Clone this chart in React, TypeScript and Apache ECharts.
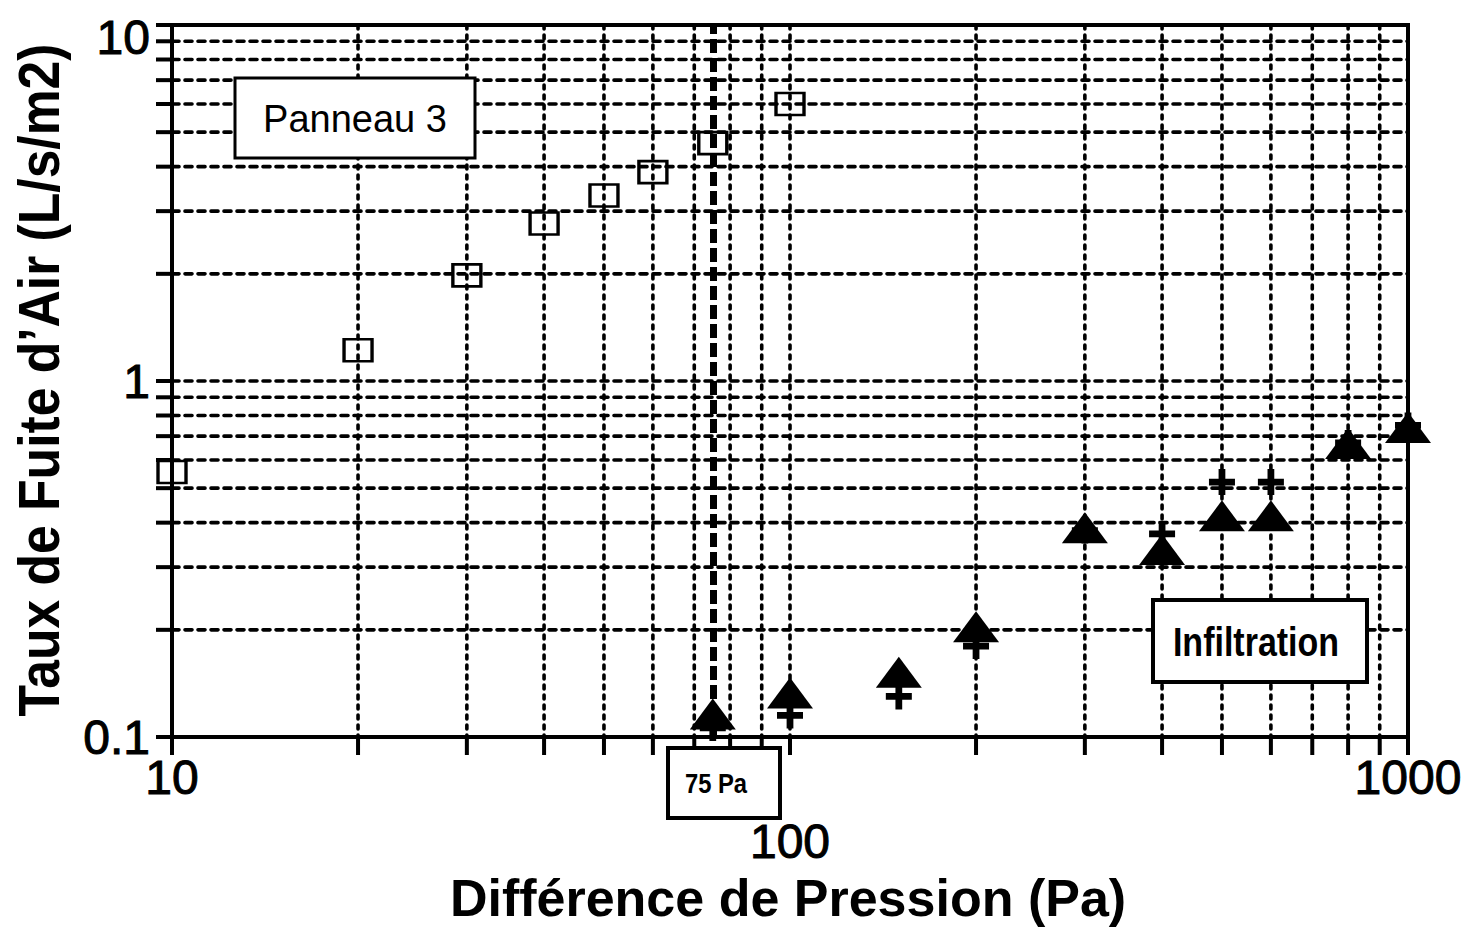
import React, { useEffect, useRef } from "react";
import * as echarts from "echarts";

// ---- axis ranges & tick labels ----
const xRange = [10, 1000];
const yRange = [0.1, 10];
const xTickLabels = ["10", "100", "1000"];
const yTickLabels = ["0.1", "1", "10"];

// ---- dashed grid positions (every minor + interior major) ----
const gridX = [20, 30, 40, 50, 60, 70, 80, 90, 100, 200, 300, 400, 500, 600, 700, 800, 900];
const gridY = [0.2, 0.3, 0.4, 0.5, 0.6, 0.7, 0.8, 0.9, 1, 2, 3, 4, 5, 6, 7, 8, 9];

// ---- reference pressure ----
const refPressure = 75;

// ---- "Panneau 3" (open squares) ----
const panneauX = [10, 20, 30, 40, 50, 60, 75, 100];
const panneauY = [0.555, 1.22, 1.98, 2.77, 3.32, 3.86, 4.66, 6.0];

// ---- "Infiltration" (filled triangles) ----
const infilX = [75, 100, 150, 200, 300, 400, 500, 600, 800, 1000];
const infilY = [0.116, 0.133, 0.152, 0.204, 0.387, 0.336, 0.418, 0.418, 0.668, 0.74];

// ---- second infiltration run (plus signs) ----
const plusX = [75, 100, 150, 200, 300, 400, 500, 600, 800, 1000];
const plusY = [0.106, 0.115, 0.13, 0.18, 0.38, 0.372, 0.52, 0.52, 0.67, 0.75];

const FONT = "'Liberation Sans', Arial, Helvetica, sans-serif";
const PLUS = "path://M37,0H63V37H100V63H63V100H37V63H0V37H37Z";

export default function App() {
  const ref = useRef<HTMLDivElement>(null);

  useEffect(() => {
    if (!ref.current) return;
    const chart = echarts.init(ref.current, null, { renderer: "svg" });

    const boxText = (text: string, x: number, y: number, font: string, scaleX = 1) => ({
      type: "text",
      z: 101,
      x,
      y,
      scaleX,
      style: { text, font, fill: "#000", align: "center", verticalAlign: "middle" },
    });
    const box = (x: number, y: number, w: number, h: number, lw: number) => ({
      type: "rect",
      z: 100,
      shape: { x, y, width: w, height: h },
      style: { fill: "#fff", stroke: "#000", lineWidth: lw },
    });

    const option: any = {
      animation: false,
      backgroundColor: "#ffffff",
      grid: {
        left: 172,
        right: 63,
        top: 25,
        bottom: 196,
        show: true,
        borderColor: "#000",
        borderWidth: 4,
        backgroundColor: "transparent",
      },
      xAxis: {
        type: "log",
        logBase: 10,
        min: xRange[0],
        max: xRange[1],
        axisLine: { show: true, lineStyle: { color: "#000", width: 4 } },
        axisTick: { show: true, length: 18, lineStyle: { color: "#000", width: 4 } },
        splitLine: { show: false },
        minorTick: { show: false },
        axisLabel: {
          margin: 16,
          color: "#000",
          fontFamily: FONT,
          fontSize: 48,
          textBorderColor: "#000",
          textBorderWidth: 1,
          formatter: (v: number) => {
            const s = xTickLabels.find((t) => Math.abs(Number(t) - v) < 1e-6) || String(v);
            return s === "100" ? "{low|" + s + "}" : s;
          },
          rich: {
            low: {
              padding: [64, 0, 0, 0],
              fontSize: 48,
              fontFamily: FONT,
              color: "#000",
              textBorderColor: "#000",
              textBorderWidth: 1,
            },
          },
        },
      },
      yAxis: {
        type: "log",
        logBase: 10,
        min: yRange[0],
        max: yRange[1],
        axisLine: { show: true, lineStyle: { color: "#000", width: 4 } },
        axisTick: { show: true, length: 16, lineStyle: { color: "#000", width: 4 } },
        splitLine: { show: false },
        minorTick: { show: false },
        axisLabel: {
          margin: 22,
          color: "#000",
          fontFamily: FONT,
          fontSize: 48,
          textBorderColor: "#000",
          textBorderWidth: 1,
          formatter: (v: number) => {
            const s = yTickLabels.find((t) => Math.abs(Number(t) - v) < 1e-6) || String(v);
            return s === "10" ? "{top|" + s + "}" : s;
          },
          rich: {
            top: {
              padding: [24, 0, 0, 0],
              fontSize: 48,
              fontFamily: FONT,
              color: "#000",
              textBorderColor: "#000",
              textBorderWidth: 1,
            },
          },
        },
      },
      series: [
        {
          type: "custom",
          name: "gridX",
          silent: true,
          z: 1,
          encode: { x: 0, y: 1 },
          data: gridX.map((v) => [v, yRange[0]]),
          renderItem: (_p: any, api: any) => {
            const v = api.value(0);
            const a = api.coord([v, yRange[1]]);
            const b = api.coord([v, yRange[0]]);
            return {
              type: "group",
              children: [
                {
                  type: "line",
                  shape: { x1: a[0], y1: a[1], x2: b[0], y2: b[1] },
                  style: { stroke: "#000", lineWidth: 3.6, lineDash: [4, 6], lineCap: "round" },
                },
                {
                  type: "line",
                  shape: { x1: b[0], y1: b[1], x2: b[0], y2: b[1] + 18 },
                  style: { stroke: "#000", lineWidth: 4 },
                },
              ],
            };
          },
        },
        {
          type: "custom",
          name: "gridY",
          silent: true,
          z: 1,
          encode: { x: 0, y: 1 },
          data: gridY.map((v) => [xRange[0], v]),
          renderItem: (_p: any, api: any) => {
            const v = api.value(1);
            const a = api.coord([xRange[0], v]);
            const b = api.coord([xRange[1], v]);
            return {
              type: "group",
              children: [
                {
                  type: "line",
                  shape: { x1: a[0], y1: a[1], x2: b[0], y2: b[1] },
                  style: { stroke: "#000", lineWidth: 3.6, lineDash: [7, 6], lineCap: "round" },
                },
                {
                  type: "line",
                  shape: { x1: a[0] - 16, y1: a[1], x2: a[0], y2: a[1] },
                  style: { stroke: "#000", lineWidth: 4 },
                },
              ],
            };
          },
        },
        {
          type: "scatter",
          name: "Panneau 3",
          z: 5,
          symbol: "rect",
          symbolSize: [28, 22],
          itemStyle: { color: "rgba(255,255,255,0)", borderColor: "#000", borderWidth: 3, opacity: 1 },
          data: panneauX.map((x, i) => [x, panneauY[i]]),
          markLine: {
            silent: true,
            symbol: ["none", "none"],
            label: { show: false },
            lineStyle: { color: "#000", width: 7, type: [14, 5], opacity: 1 },
            data: [{ xAxis: refPressure }],
          },
        },
        {
          type: "scatter",
          name: "Infiltration +",
          z: 5,
          symbol: PLUS,
          symbolSize: 26,
          itemStyle: { color: "#000", opacity: 1 },
          data: plusX.map((x, i) => [x, plusY[i]]),
        },
        {
          type: "scatter",
          name: "Infiltration",
          z: 6,
          symbol: "triangle",
          symbolSize: [46, 31],
          itemStyle: { color: "#000", opacity: 1 },
          data: infilX.map((x, i) => [x, infilY[i]]),
        },
      ],
      graphic: [
        box(235, 78, 240, 80, 3),
        boxText("Panneau 3", 355, 119, "38px " + FONT),
        box(1153, 600, 214, 82, 4),
        boxText("Infiltration", 1256, 642, "bold 40px " + FONT, 0.85),
        box(668, 748, 112, 70, 4),
        boxText("75 Pa", 716, 783, "bold 28px " + FONT, 0.85),
        boxText("Différence de Pression (Pa)", 788, 898, "bold 52px " + FONT, 1),
        {
          type: "text",
          z: 101,
          x: 39,
          y: 380,
          rotation: Math.PI / 2,
          scaleX: 0.89,
          style: {
            text: "Taux de Fuite d’Air (L/s/m2)",
            font: "bold 58px " + FONT,
            fill: "#000",
            align: "center",
            verticalAlign: "middle",
          },
        },
      ],
    };

    chart.setOption(option);
    return () => chart.dispose();
  }, []);

  return (
    <div
      ref={ref}
      style={{ position: "fixed", left: 0, top: 0, width: 1471, height: 933, background: "#fff" }}
    />
  );
}
